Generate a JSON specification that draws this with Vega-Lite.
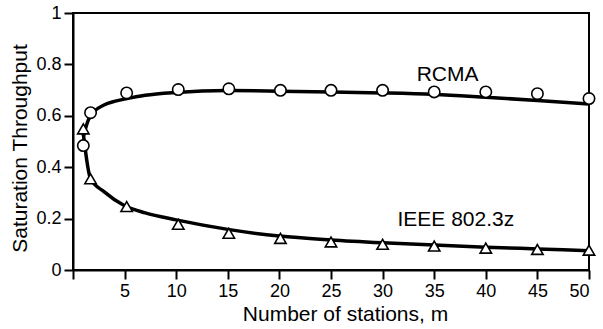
{
  "$schema": "https://vega.github.io/schema/vega-lite/v6.json",
  "autosize": "none",
  "width": 516,
  "height": 257,
  "padding": {"left": 73, "top": 13, "right": 14, "bottom": 59},
  "background": "white",
  "config": {
    "font": "Liberation Sans",
    "view": {"stroke": "black", "strokeWidth": 2},
    "axis": {
      "domainColor": "black", "domainWidth": 2,
      "tickColor": "black", "tickWidth": 2, "tickSize": 9,
      "grid": false,
      "labelFont": "Liberation Sans", "labelFontSize": 18, "labelColor": "black",
      "titleFont": "Liberation Sans", "titleFontSize": 21, "titleFontWeight": "normal", "titleColor": "black"
    }
  },
  "datasets": {
    "curves": [
      {"series": "RCMA", "m": 1, "t": 0.52},
      {"series": "RCMA", "m": 1.5, "t": 0.585},
      {"series": "RCMA", "m": 2, "t": 0.615},
      {"series": "RCMA", "m": 3, "t": 0.642},
      {"series": "RCMA", "m": 4, "t": 0.656},
      {"series": "RCMA", "m": 5, "t": 0.665},
      {"series": "RCMA", "m": 7, "t": 0.68},
      {"series": "RCMA", "m": 10, "t": 0.691},
      {"series": "RCMA", "m": 15, "t": 0.698},
      {"series": "RCMA", "m": 20, "t": 0.696},
      {"series": "RCMA", "m": 25, "t": 0.693},
      {"series": "RCMA", "m": 30, "t": 0.689},
      {"series": "RCMA", "m": 35, "t": 0.683},
      {"series": "RCMA", "m": 40, "t": 0.672},
      {"series": "RCMA", "m": 45, "t": 0.66},
      {"series": "RCMA", "m": 50, "t": 0.646},
      {"series": "IEEE", "m": 1, "t": 0.53},
      {"series": "IEEE", "m": 1.7, "t": 0.355},
      {"series": "IEEE", "m": 3, "t": 0.305},
      {"series": "IEEE", "m": 5, "t": 0.25},
      {"series": "IEEE", "m": 7, "t": 0.222},
      {"series": "IEEE", "m": 10, "t": 0.195},
      {"series": "IEEE", "m": 15, "t": 0.158},
      {"series": "IEEE", "m": 20, "t": 0.132},
      {"series": "IEEE", "m": 25, "t": 0.117},
      {"series": "IEEE", "m": 30, "t": 0.106},
      {"series": "IEEE", "m": 35, "t": 0.097},
      {"series": "IEEE", "m": 40, "t": 0.089},
      {"series": "IEEE", "m": 45, "t": 0.082},
      {"series": "IEEE", "m": 50, "t": 0.075}
    ],
    "points": [
      {"series": "RCMA", "m": 1, "t": 0.484},
      {"series": "RCMA", "m": 1.7, "t": 0.612},
      {"series": "RCMA", "m": 5.2, "t": 0.689},
      {"series": "RCMA", "m": 10.2, "t": 0.702},
      {"series": "RCMA", "m": 15.1, "t": 0.705},
      {"series": "RCMA", "m": 20.1, "t": 0.699},
      {"series": "RCMA", "m": 25, "t": 0.699},
      {"series": "RCMA", "m": 30, "t": 0.699},
      {"series": "RCMA", "m": 35, "t": 0.693},
      {"series": "RCMA", "m": 40, "t": 0.693},
      {"series": "RCMA", "m": 45, "t": 0.686},
      {"series": "RCMA", "m": 50, "t": 0.667},
      {"series": "IEEE", "m": 1, "t": 0.549},
      {"series": "IEEE", "m": 1.7, "t": 0.355},
      {"series": "IEEE", "m": 5.2, "t": 0.247},
      {"series": "IEEE", "m": 10.2, "t": 0.178},
      {"series": "IEEE", "m": 15.1, "t": 0.143},
      {"series": "IEEE", "m": 20.1, "t": 0.123},
      {"series": "IEEE", "m": 25, "t": 0.109},
      {"series": "IEEE", "m": 30, "t": 0.1},
      {"series": "IEEE", "m": 35, "t": 0.093},
      {"series": "IEEE", "m": 40, "t": 0.085},
      {"series": "IEEE", "m": 45, "t": 0.08},
      {"series": "IEEE", "m": 50, "t": 0.077}
    ],
    "labels": [
      {"label": "RCMA", "m": 36.3, "t": 0.76},
      {"label": "IEEE 802.3z", "m": 37.1, "t": 0.194}
    ]
  },
  "encoding": {
    "x": {
      "field": "m", "type": "quantitative",
      "scale": {"domain": [0, 50], "nice": false, "zero": false},
      "axis": {
        "values": [0, 5, 10, 15, 20, 25, 30, 35, 40, 45, 50],
        "labelExpr": "datum.value == 0 ? '' : datum.label",
        "title": "Number of stations, m",
        "titleX": 272,
        "labelPadding": 3, "titlePadding": 3
      }
    },
    "y": {
      "field": "t", "type": "quantitative",
      "scale": {"domain": [0, 1], "nice": false},
      "axis": {
        "values": [0, 0.2, 0.4, 0.6, 0.8, 1],
        "format": ".1~f",
        "title": "Saturation Throughput",
        "titleY": 135,
        "labelPadding": 3, "titlePadding": 5
      }
    }
  },
  "layer": [
    {
      "data": {"name": "curves"},
      "mark": {"type": "line", "color": "black", "strokeWidth": 3.5, "interpolate": "monotone"},
      "encoding": {"detail": {"field": "series"}}
    },
    {
      "data": {"name": "points"},
      "mark": {"type": "point", "filled": true, "fill": "white", "stroke": "black", "strokeWidth": 1.6, "size": 130, "opacity": 1},
      "encoding": {
        "shape": {
          "field": "series", "type": "nominal",
          "scale": {"domain": ["RCMA", "IEEE"], "range": ["circle", "triangle-up"]},
          "legend": null
        }
      }
    },
    {
      "data": {"name": "labels"},
      "mark": {"type": "text", "font": "Liberation Sans", "fontSize": 21, "color": "black", "align": "center", "baseline": "middle"},
      "encoding": {"text": {"field": "label"}}
    }
  ]
}
